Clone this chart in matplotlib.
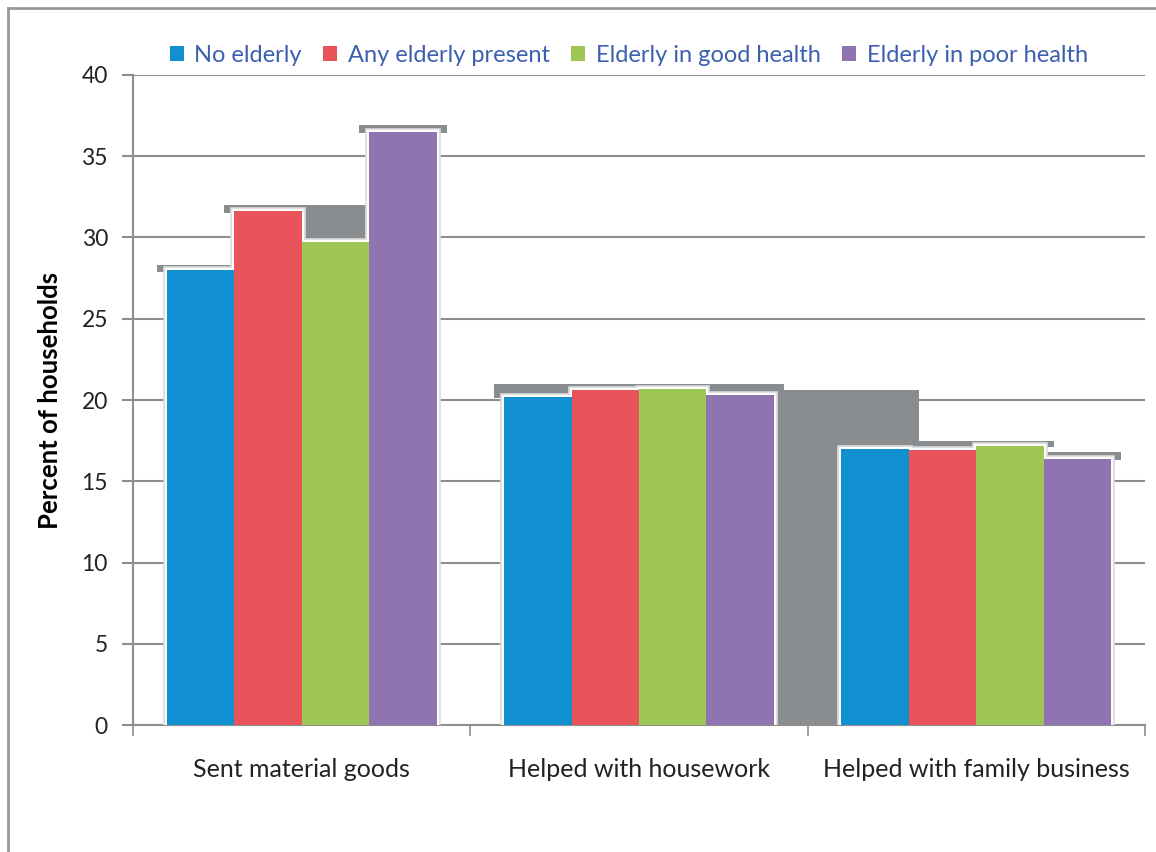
import matplotlib.pyplot as plt
from matplotlib.patches import Patch
from matplotlib.lines import Line2D
import numpy as np

# Data
categories = ["Sent material goods", "Helped with housework", "Helped with family business"]
series = ["No elderly", "Any elderly present", "Elderly in good health", "Elderly in poor health"]
no_elderly = [28.0, 20.2, 17.0]
any_elderly = [31.6, 20.6, 16.9]
good_health = [29.7, 20.7, 17.2]
poor_health = [36.5, 20.3, 16.4]
# grey drop shadow heights behind each bar (as seen in the picture)
shadow_no = [28.3, 21.0, 20.6]
shadow_any = [32.0, 21.0, 17.5]
shadow_good = [32.0, 21.0, 17.5]
shadow_poor = [36.9, 21.0, 16.8]
yticks = [0, 5, 10, 15, 20, 25, 30, 35, 40]

values = [no_elderly, any_elderly, good_health, poor_health]
shadows = [shadow_no, shadow_any, shadow_good, shadow_poor]
colors = ['#1190d1', '#e8545a', '#9fc757', '#9073b1']
shadow_color = '#8a8d90'
grid_color = '#8e8e8e'
text_blue = '#3c5fb0'

plt.rcParams['font.family'] = ['Lato', 'DejaVu Sans']

fig = plt.figure(figsize=(11.56, 8.52), dpi=100)
ax = fig.add_axes([0.115, 0.149, 0.8755, 0.763])

x = np.arange(len(categories))
width = 0.2
offsets = [-0.3, -0.1, 0.1, 0.3]
pad = 0.03

# shadows first: only the caps stick out, except the odd block between groups 2 and 3
for i in range(4):
    for j in range(len(categories)):
        left = x[j] + offsets[i] - width / 2 - pad
        right = x[j] + offsets[i] + width / 2 + pad
        base = values[i][j] - 0.1
        ax.bar(left, shadows[i][j] - base, bottom=base, width=right - left, align='edge',
               color=shadow_color, linewidth=0, zorder=2)
        if j == 2 and i == 0:
            gap_left = x[j - 1] + offsets[3] + width / 2
            ax.bar(gap_left, shadows[i][j], width=right - gap_left, align='edge',
                   color=shadow_color, linewidth=0, zorder=2)

# bars with white border
for i in range(4):
    ax.bar(x + offsets[i], values[i], width=width, color=colors[i],
           edgecolor='#dcdcdc', linewidth=5.5, zorder=3)
    ax.bar(x + offsets[i], values[i], width=width, color=colors[i],
           edgecolor='white', linewidth=3, zorder=4)
    ax.bar(x + offsets[i], values[i], width=width, color=colors[i],
           linewidth=0, zorder=5)

ax.set_xlim(-0.5, 2.5)
ax.set_ylim(0, 40)
ax.set_yticks(yticks)
ax.set_yticklabels([str(t) for t in yticks], fontsize=16.5, color='#222222')
ax.yaxis.grid(True, color=grid_color, linewidth=1.5, zorder=1)
ax.set_axisbelow(True)

ax.set_xticks([-0.5, 0.5, 1.5, 2.5])
ax.set_xticklabels([])
ax.set_xticks(x, minor=True)
ax.set_xticklabels(categories, minor=True, fontsize=18, color='#222222')
ax.tick_params(axis='x', which='minor', length=0, pad=24)
ax.tick_params(axis='x', which='major', length=8, width=1.2, color=grid_color)
ax.tick_params(axis='y', length=8, width=1.5, color=grid_color, pad=10)

for s in ['top', 'right']:
    ax.spines[s].set_visible(False)
ax.spines['left'].set_color(grid_color)
ax.spines['bottom'].set_color(grid_color)
ax.spines['left'].set_linewidth(1.5)
ax.spines['bottom'].set_linewidth(1.5)

ax.set_ylabel('Percent of households', fontsize=18.5, fontweight='bold', labelpad=14)

handles = [Patch(facecolor=c, edgecolor='none', label=s) for c, s in zip(colors, series)]
leg = fig.legend(handles=handles, loc='center', bbox_to_anchor=(0.544, 0.935), ncol=4,
                 frameon=False, fontsize=17, handlelength=0.6, handleheight=0.6,
                 handletextpad=0.45, columnspacing=0.9)
for t in leg.get_texts():
    t.set_color(text_blue)

# outer frame
fig.add_artist(Line2D([8 / 1156, 8 / 1156], [0, 1 - 8 / 852], transform=fig.transFigure,
                      color='#999999', linewidth=2))
fig.add_artist(Line2D([8 / 1156, 1], [1 - 8 / 852, 1 - 8 / 852], transform=fig.transFigure,
                      color='#999999', linewidth=2))

fig.savefig('out.png', dpi=100)
